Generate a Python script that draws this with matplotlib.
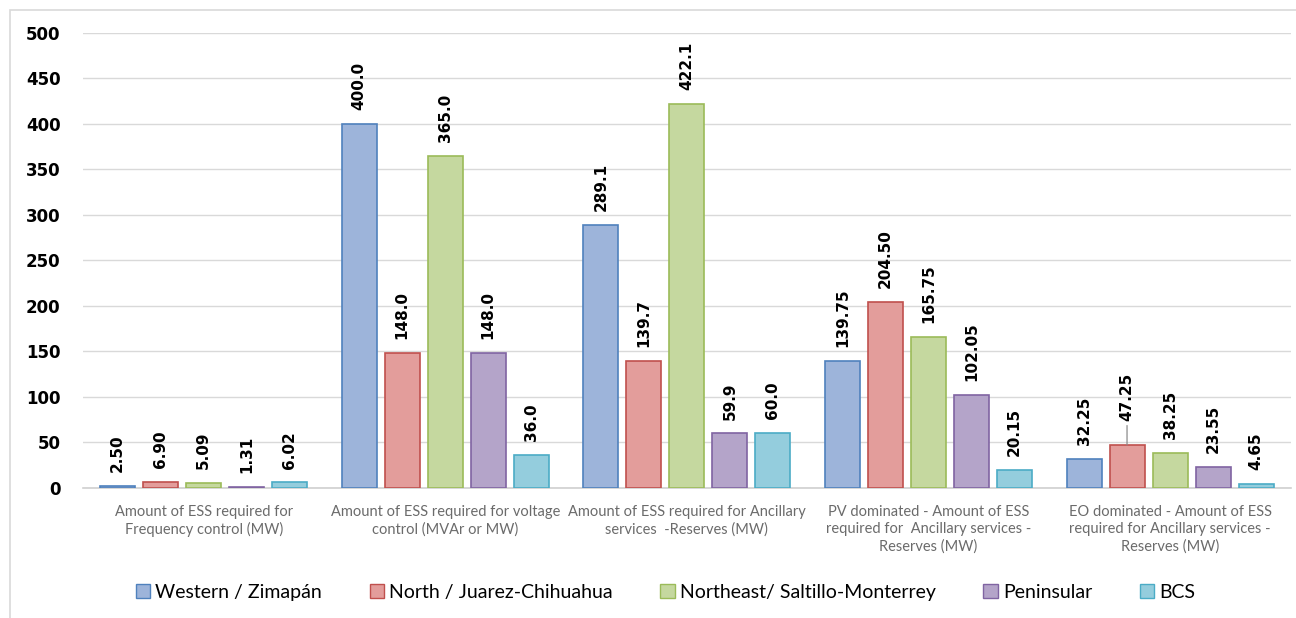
import numpy as np
import matplotlib
matplotlib.use("Agg")
import matplotlib.pyplot as plt
from matplotlib.patches import Patch, Rectangle

# ================== data ==================
categories = [
    "Amount of ESS required for\nFrequency control (MW)",
    "Amount of ESS required for voltage\ncontrol (MVAr or MW)",
    "Amount of ESS required for Ancillary\nservices  -Reserves (MW)",
    "PV dominated - Amount of ESS\nrequired for  Ancillary services -\nReserves (MW)",
    "EO dominated - Amount of ESS\nrequired for Ancillary services -\nReserves (MW)",
]
regions = [
    "Western / Zimapán",
    "North / Juarez-Chihuahua",
    "Northeast/ Saltillo-Monterrey",
    "Peninsular",
    "BCS",
]
western = [2.50, 400.0, 289.1, 139.75, 32.25]
north = [6.90, 148.0, 139.7, 204.50, 47.25]
northeast = [5.09, 365.0, 422.1, 165.75, 38.25]
peninsular = [1.31, 148.0, 59.9, 102.05, 23.55]
bcs = [6.02, 36.0, 60.0, 20.15, 4.65]
decimals = [2, 1, 1, 2, 2]  # label precision per category
yticks = list(range(0, 501, 50))

# ================== style ==================
fills = ["#9db4da", "#e39d9b", "#c5d89f", "#b4a4c9", "#94cddd"]
edges = ["#4f81bd", "#c0504d", "#9bbb59", "#8064a2", "#4bacc6"]
BAR_W = 0.145
STEP = 0.178
LABEL_FONT = ["Lato", "DejaVu Sans"]

series = [western, north, northeast, peninsular, bcs]

fig = plt.figure(figsize=(12.96, 6.18), dpi=100)
ax = fig.add_axes([0.064, 0.2104, 0.932, 0.7362])

x = np.arange(len(categories))
for i, vals in enumerate(series):
    xs = x + (i - 2) * STEP
    ax.bar(xs, vals, width=BAR_W, color=fills[i], edgecolor=edges[i],
           linewidth=1.2, zorder=3)
    for j, (xx, v) in enumerate(zip(xs, vals)):
        txt = f"{v:.{decimals[j]}f}"
        # the 47.25 label sits higher, tied to its bar with a leader line
        if i == 1 and j == 4:
            ax.annotate(txt, xy=(xx, v), xytext=(0, 17), textcoords="offset points",
                        rotation=90, ha="center", va="bottom", fontsize=11,
                        fontweight="bold",
                        arrowprops=dict(arrowstyle="-", color="#8c8c8c", lw=0.9,
                                        shrinkA=1, shrinkB=0))
        else:
            ax.annotate(txt, xy=(xx, v), xytext=(0, 10), textcoords="offset points",
                        rotation=90, ha="center", va="bottom", fontsize=11,
                        fontweight="bold")

ax.set_xlim(-0.5, len(categories) - 0.5)
ax.set_ylim(0, 500)
ax.set_yticks(yticks)
ax.yaxis.grid(True, color="#d9d9d9", linewidth=1.0, zorder=0)
ax.set_axisbelow(True)
ax.tick_params(axis="y", length=0, pad=16, labelsize=12)
for lab in ax.get_yticklabels():
    lab.set_fontweight("bold")

ax.set_xticks(x)
ax.set_xticklabels(categories, fontsize=10.5, color="#6b6b6b",
                   family=LABEL_FONT, linespacing=1.3)
ax.tick_params(axis="x", length=0, pad=12)

for side in ["left", "right", "top"]:
    ax.spines[side].set_visible(False)
ax.spines["bottom"].set_color("#d0d0d0")
ax.spines["bottom"].set_linewidth(1.2)

handles = [Patch(facecolor=fills[i], edgecolor=edges[i], linewidth=1.0)
           for i in range(len(regions))]
fig.legend(handles, regions, loc="center", bbox_to_anchor=(0.5135, 0.042),
           ncol=5, frameon=False, prop={"family": LABEL_FONT, "size": 14},
           handlelength=0.75, handleheight=0.75, handletextpad=0.25,
           columnspacing=2.45)

# light frame around the chart area
fig.add_artist(Rectangle((10 / 1296, -0.1), 1.2, 0.9838 + 0.1,
                         transform=fig.transFigure, fill=False,
                         edgecolor="#d9d9d9", linewidth=1.2))

fig.savefig("out.png", dpi=100)
